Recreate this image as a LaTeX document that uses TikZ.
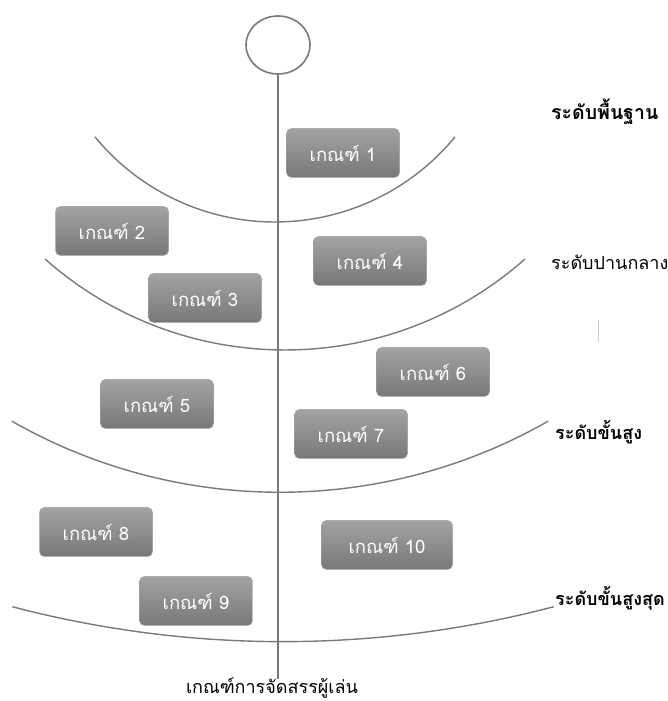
\documentclass[tikz,border=0pt]{standalone}
\usepackage{fontspec}
\usetikzlibrary{shapes.geometric}
\setmainfont[Script=Thai]{Loma}
\definecolor{linegray}{HTML}{7A7A7A}
\definecolor{boxtop}{HTML}{A3A3A3}
\definecolor{boxbot}{HTML}{787878}
\begin{document}
\begin{tikzpicture}[x=1pt,y=1pt,
  crit/.style={rounded corners=5pt, draw=boxbot!70!white, line width=0.5pt, top color=boxtop, bottom color=boxbot,
    text=white, font=\fontsize{18.5}{20}\selectfont, minimum width=113pt, minimum height=49pt, inner sep=0pt},
  level/.style={anchor=west, font=\fontsize{18}{20}\selectfont, text=black, inner sep=0pt},
  curve/.style={draw=linegray, line width=1.4pt}]
\useasboundingbox (0,0) rectangle (667,701);
\fill[white] (0,0) rectangle (667,701);
% head
\node[draw=linegray, line width=1.6pt, ellipse, minimum width=64pt, minimum height=58pt, inner sep=0pt] (head) at (278,656) {};
\coordinate (foot) at (278,22);
\draw[curve] (head.south) -- (foot);
\node[font=\fontsize{18}{20}\selectfont, inner sep=0pt, anchor=base] (title) at (272,7.5) {เกณฑ์การจัดสรรผู้เล่น};
% arcs
\draw[curve] ([shift={(275,712)}]219.4:233) arc[start angle=219.4,end angle=320.6,radius=233];
\draw[curve] ([shift={(285,713)}]228.5:362) arc[start angle=228.5,end angle=311.5,radius=362];
\draw[curve] ([shift={(280,750)}]240.3:541.3) arc[start angle=240.3,end angle=299.7,radius=541.3];
\draw[curve] ([shift={(283,1126)}]255.3:1066.7) arc[start angle=255.3,end angle=284.7,radius=1066.7];
% faint mark
\draw[gray!40, line width=0.8pt] (598,381) -- (598,359);
% boxes
\node[crit] (c1) at (343,548) {เกณฑ์ 1};
\node[crit] (c2) at (112,470) {เกณฑ์ 2};
\node[crit] (c4) at (370,440) {เกณฑ์ 4};
\node[crit] (c3) at (205,403) {เกณฑ์ 3};
\node[crit] (c6) at (433,329) {เกณฑ์ 6};
\node[crit] (c5) at (157,297) {เกณฑ์ 5};
\node[crit] (c7) at (351,267) {เกณฑ์ 7};
\node[crit] (c8) at (96,169) {เกณฑ์ 8};
\node[crit, minimum width=131pt] (c10) at (387,156) {เกณฑ์ 10};
\node[crit] (c9) at (196,100) {เกณฑ์ 9};
% levels
\node[level, font=\fontsize{19.5}{21}\selectfont\bfseries] (l1) at (551,589) {ระดับพื้นฐาน};
\node[level, font=\fontsize{18}{20}\selectfont] (l2) at (551,439) {ระดับปานกลาง};
\node[level, font=\fontsize{18}{20}\selectfont\bfseries] (l3) at (555,269) {ระดับขั้นสูง};
\node[level, font=\fontsize{18}{20}\selectfont\bfseries] (l4) at (555,103) {ระดับขั้นสูงสุด};
\end{tikzpicture}
\end{document}
